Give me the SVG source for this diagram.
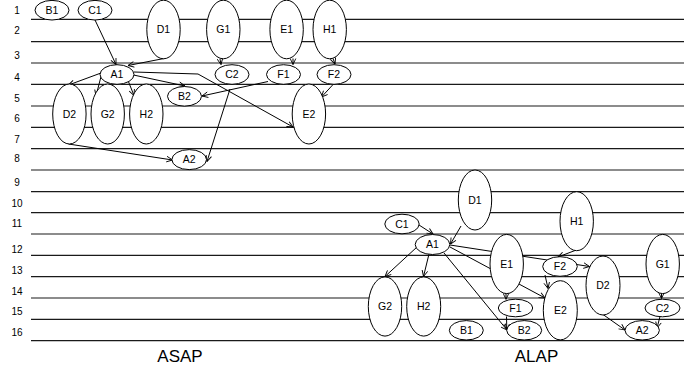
<svg xmlns="http://www.w3.org/2000/svg" width="684" height="369" viewBox="0 0 684 369">
  <defs>
    <marker id="arr" viewBox="0 0 10 10" refX="9.5" refY="5" markerWidth="7" markerHeight="7" markerUnits="userSpaceOnUse" orient="auto">
      <path d="M1,1 L9.5,5 L1,9" fill="none" stroke="#000" stroke-width="1.3"/>
    </marker>
    <style>
      .grid line { stroke: #1a1a1a; stroke-width: 1.2; }
      .row { font-family: "Liberation Sans", Arial, sans-serif; font-size: 10px; fill: #000; text-anchor: middle; }
      .title { font-family: "Liberation Sans", Arial, sans-serif; font-size: 17px; fill: #000; text-anchor: middle; }
      .edges line, .edges path { stroke: #000; stroke-width: 1; fill: none; marker-end: url(#arr); }
      .node ellipse { fill: #fff; stroke: #000; stroke-width: 1; }
      .node text { font-family: "Liberation Sans", Arial, sans-serif; font-size: 10.5px; fill: #000; text-anchor: middle; }
    </style>
  </defs>
  <rect width="684" height="369" fill="#fff"/>

  <!-- control-step grid -->
  <g class="grid">
    <line x1="31" y1="19.3" x2="684" y2="19.3"/>
    <line x1="31" y1="41.7" x2="684" y2="41.7"/>
    <line x1="31" y1="63" x2="684" y2="63"/>
    <line x1="31" y1="84.3" x2="684" y2="84.3"/>
    <line x1="31" y1="106" x2="684" y2="106"/>
    <line x1="31" y1="127.3" x2="684" y2="127.3"/>
    <line x1="31" y1="148.7" x2="684" y2="148.7"/>
    <line x1="31" y1="170" x2="684" y2="170"/>
    <line x1="31" y1="191.7" x2="684" y2="191.7"/>
    <line x1="31" y1="212.7" x2="684" y2="212.7"/>
    <line x1="31" y1="234" x2="684" y2="234"/>
    <line x1="31" y1="255.3" x2="684" y2="255.3"/>
    <line x1="31" y1="276.7" x2="684" y2="276.7"/>
    <line x1="31" y1="298" x2="684" y2="298"/>
    <line x1="31" y1="319.3" x2="684" y2="319.3"/>
    <line x1="31" y1="340.7" x2="684" y2="340.7"/>
  </g>

  <!-- step numbers -->
  <g>
    <text class="row" x="17" y="13.9">1</text>
    <text class="row" x="17" y="34.3">2</text>
    <text class="row" x="17" y="58.6">3</text>
    <text class="row" x="17" y="80.9">4</text>
    <text class="row" x="17" y="101.9">5</text>
    <text class="row" x="17" y="121.9">6</text>
    <text class="row" x="17" y="142.9">7</text>
    <text class="row" x="17" y="161.9">8</text>
    <text class="row" x="17" y="185.9">9</text>
    <text class="row" x="17" y="206.9">10</text>
    <text class="row" x="17" y="226.9">11</text>
    <text class="row" x="17" y="252.9">12</text>
    <text class="row" x="17" y="273.6">13</text>
    <text class="row" x="17" y="294.6">14</text>
    <text class="row" x="17" y="315.3">15</text>
    <text class="row" x="17" y="335.9">16</text>
  </g>

  <!-- dependencies -->
  <g class="edges" id="connectors">
    <!-- ASAP schedule -->
    <line x1="95" y1="20" x2="116" y2="64.5"/>
    <line x1="164" y1="58.5" x2="128" y2="65.5"/>
    <line x1="220" y1="59" x2="221" y2="64.5"/>
    <line x1="293" y1="58.5" x2="293" y2="64.5"/>
    <line x1="333" y1="58.5" x2="335" y2="64"/>
    <line x1="101" y1="73" x2="68.5" y2="85"/>
    <line x1="101" y1="76.5" x2="96" y2="96"/>
    <line x1="127" y1="78" x2="134" y2="95.5"/>
    <line x1="133.5" y1="75" x2="185" y2="86"/>
    <path d="M134,72 L198,74 L293,127"/>
    <line x1="268" y1="81.5" x2="202" y2="96"/>
    <line x1="230" y1="89" x2="207" y2="161.5"/>
    <line x1="334" y1="83.5" x2="321.5" y2="97"/>
    <line x1="68.5" y1="144" x2="172.5" y2="160"/>
    <!-- ALAP schedule -->
    <line x1="461" y1="226" x2="450.5" y2="244"/>
    <line x1="419" y1="225" x2="433" y2="234"/>
    <line x1="417" y1="247" x2="385" y2="276.5"/>
    <line x1="429" y1="254" x2="423.5" y2="276.5"/>
    <line x1="444" y1="253" x2="507" y2="330"/>
    <line x1="450" y1="245" x2="589.5" y2="266.5"/>
    <line x1="450" y1="247" x2="545" y2="298"/>
    <line x1="506" y1="293" x2="506" y2="299.3"/>
    <line x1="575" y1="250.5" x2="558" y2="257"/>
    <line x1="545" y1="275" x2="548" y2="288.5"/>
    <line x1="506.5" y1="316.5" x2="506.8" y2="330"/>
    <line x1="661.5" y1="293.5" x2="661.5" y2="298.5"/>
    <line x1="660" y1="316.5" x2="657" y2="328"/>
    <line x1="603" y1="314.5" x2="625" y2="330"/>
  </g>

  <!-- ASAP operations -->
  <g class="node" id="asap-B1"><ellipse cx="52" cy="10.2" rx="17" ry="9.8"/><text x="52" y="14">B1</text></g>
  <g class="node" id="asap-C1"><ellipse cx="95" cy="10.2" rx="17" ry="9.8"/><text x="95" y="14">C1</text></g>
  <g class="node" id="asap-D1"><ellipse cx="163.5" cy="29.5" rx="16.7" ry="29.3"/><text x="163.5" y="33.2">D1</text></g>
  <g class="node" id="asap-G1"><ellipse cx="223.3" cy="29.5" rx="16.7" ry="29.3"/><text x="223.3" y="33.2">G1</text></g>
  <g class="node" id="asap-E1"><ellipse cx="286.6" cy="29.5" rx="16.7" ry="29.3"/><text x="286.6" y="33.2">E1</text></g>
  <g class="node" id="asap-H1"><ellipse cx="329.7" cy="29.5" rx="16.7" ry="29.3"/><text x="329.7" y="33.2">H1</text></g>
  <g class="node" id="asap-A1"><ellipse cx="117" cy="74.5" rx="17" ry="9.8"/><text x="117" y="78.2">A1</text></g>
  <g class="node" id="asap-C2"><ellipse cx="232" cy="74.5" rx="17" ry="9.8"/><text x="232" y="78.2">C2</text></g>
  <g class="node" id="asap-F1"><ellipse cx="283.5" cy="74.5" rx="17" ry="9.8"/><text x="283.5" y="78.2">F1</text></g>
  <g class="node" id="asap-F2"><ellipse cx="334" cy="74.5" rx="17" ry="9.8"/><text x="334" y="78.2">F2</text></g>
  <g class="node" id="asap-B2"><ellipse cx="184.5" cy="96.3" rx="17" ry="9.8"/><text x="184.5" y="100">B2</text></g>
  <g class="node" id="asap-D2"><ellipse cx="69.4" cy="114" rx="16.7" ry="30"/><text x="69.4" y="117.7">D2</text></g>
  <g class="node" id="asap-G2"><ellipse cx="107.7" cy="114" rx="16.7" ry="30"/><text x="107.7" y="117.7">G2</text></g>
  <g class="node" id="asap-H2"><ellipse cx="146.3" cy="114" rx="16.7" ry="30"/><text x="146.3" y="117.7">H2</text></g>
  <g class="node" id="asap-E2"><ellipse cx="308.9" cy="114" rx="16.7" ry="30"/><text x="308.9" y="117.7">E2</text></g>
  <g class="node" id="asap-A2"><ellipse cx="189.2" cy="159.6" rx="17.3" ry="10"/><text x="189.2" y="163.3">A2</text></g>

  <!-- ALAP operations -->
  <g class="node" id="alap-D1"><ellipse cx="475" cy="200" rx="16.7" ry="30"/><text x="475" y="203.7">D1</text></g>
  <g class="node" id="alap-C1"><ellipse cx="402" cy="224" rx="17.2" ry="9.8"/><text x="402" y="227.7">C1</text></g>
  <g class="node" id="alap-H1"><ellipse cx="576.7" cy="221.2" rx="16.7" ry="29.5"/><text x="576.7" y="224.9">H1</text></g>
  <g class="node" id="alap-A1"><ellipse cx="432.5" cy="244.5" rx="17.3" ry="10"/><text x="432.5" y="248.2">A1</text></g>
  <g class="node" id="alap-E1"><ellipse cx="506.7" cy="264" rx="16.7" ry="29.6"/><text x="506.7" y="267.7">E1</text></g>
  <g class="node" id="alap-G1"><ellipse cx="662.7" cy="264" rx="16.7" ry="29.6"/><text x="662.7" y="267.7">G1</text></g>
  <g class="node" id="alap-F2"><ellipse cx="560" cy="266.5" rx="17.3" ry="9.8"/><text x="560" y="270.2">F2</text></g>
  <g class="node" id="alap-D2"><ellipse cx="603" cy="285.5" rx="17" ry="29.5"/><text x="603" y="289.2">D2</text></g>
  <g class="node" id="alap-G2"><ellipse cx="385" cy="306.5" rx="16.7" ry="29.6"/><text x="385" y="310.2">G2</text></g>
  <g class="node" id="alap-H2"><ellipse cx="423.7" cy="306.5" rx="17" ry="29.6"/><text x="423.7" y="310.2">H2</text></g>
  <g class="node" id="alap-E2"><ellipse cx="560.3" cy="310.3" rx="17" ry="29.6"/><text x="560.3" y="314">E2</text></g>
  <g class="node" id="alap-F1"><ellipse cx="515.5" cy="308" rx="17.2" ry="8.8"/><text x="515.5" y="311.7">F1</text></g>
  <g class="node" id="alap-C2"><ellipse cx="662.5" cy="308" rx="17.5" ry="8.8"/><text x="662.5" y="311.7">C2</text></g>
  <g class="node" id="alap-B1"><ellipse cx="466.3" cy="330.3" rx="17" ry="9.7"/><text x="466.3" y="334">B1</text></g>
  <g class="node" id="alap-B2"><ellipse cx="524.2" cy="330.3" rx="17.5" ry="9.7"/><text x="524.2" y="334">B2</text></g>
  <g class="node" id="alap-A2"><ellipse cx="642.2" cy="330.3" rx="17.2" ry="9.7"/><text x="642.2" y="334">A2</text></g>

  <!-- schedule captions -->
  <text class="title" x="180" y="361.5">ASAP</text>
  <text class="title" x="536.5" y="361.5">ALAP</text>
</svg>
